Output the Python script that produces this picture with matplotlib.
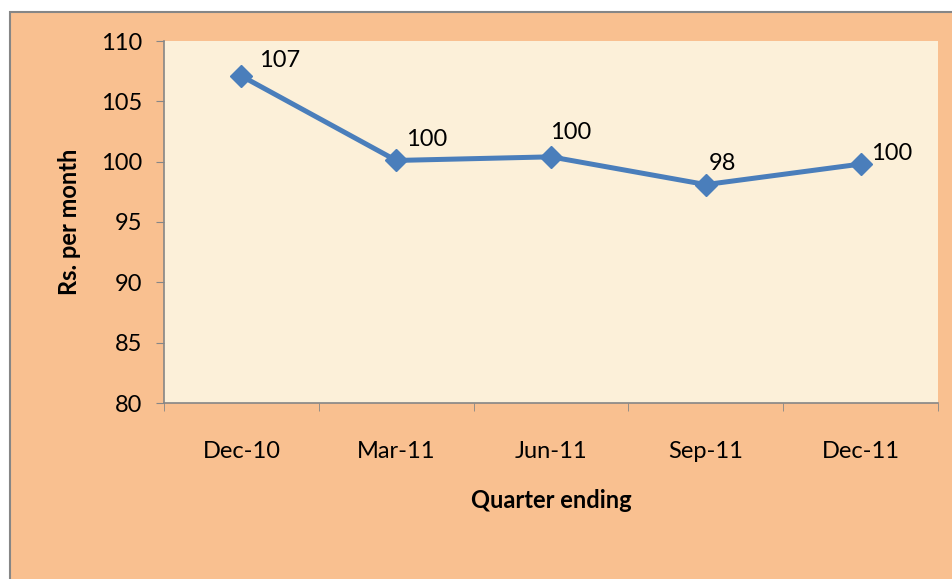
import matplotlib
matplotlib.use('Agg')
import matplotlib.pyplot as plt
from matplotlib.patches import Rectangle
import numpy as np

quarters = ['Dec-10', 'Mar-11', 'Jun-11', 'Sep-11', 'Dec-11']
cost = [107.1, 100.1, 100.4, 98.1, 99.8]
labels = ['107', '100', '100', '98', '100']
# label offsets from the marker, in pixels (left edge, vertical centre)
label_dx = [18, 10, -1, 3, 10]
label_dy = [15, 21, 24, 21, 11]

plt.rcParams['font.family'] = ['Lato', 'DejaVu Sans']
FS = 17

W, H = 952, 579
fig = plt.figure(figsize=(W/100, H/100), dpi=100)
fig.patch.set_facecolor('white')
# chart frame, runs off the right and bottom edges
fig.patches.append(Rectangle((10/W, -0.05), 1, 1.05 - 12/H, transform=fig.transFigure,
                             facecolor='#F9C090', edgecolor='#868686', linewidth=1.5, zorder=-10))

ax = fig.add_axes([164/W, 1 - 403/H, (938-164)/W, (403-41)/H])
ax.set_facecolor('#FCF0D9')

x = np.arange(len(quarters))
ax.plot(x, cost, color='#4A7EBB', lw=3.6, marker='D', ms=11, zorder=3)
for xi, yi, lab, dx, dy in zip(x, cost, labels, label_dx, label_dy):
    ax.annotate(lab, (xi, yi), xytext=(dx*0.72, dy*0.72), textcoords='offset points',
                fontsize=FS, ha='left', va='center')

ax.set_xlim(-0.5, len(quarters) - 0.5)
ax.set_ylim(80, 110)
ax.set_yticks(range(80, 111, 5))
ax.set_xticks(x)
ax.set_xticklabels(quarters)
ax.set_xticks(np.arange(-0.5, len(quarters)), minor=True)
ax.tick_params(axis='x', which='major', length=0, pad=27, labelsize=FS)
ax.tick_params(axis='x', which='minor', length=6, color='#868686', direction='out')
ax.tick_params(axis='y', length=6, color='#868686', labelsize=FS, pad=10)

for s in ['top', 'right']:
    ax.spines[s].set_visible(False)
for s in ['left', 'bottom']:
    ax.spines[s].set_color('#868686')
    ax.spines[s].set_linewidth(1.2)

ax.set_xlabel('Quarter ending', fontsize=FS, fontweight='bold', labelpad=20)
ax.set_ylabel('Rs. per month', fontsize=FS, fontweight='bold', labelpad=14)

fig.savefig('out.png', dpi=100, facecolor=fig.get_facecolor())
